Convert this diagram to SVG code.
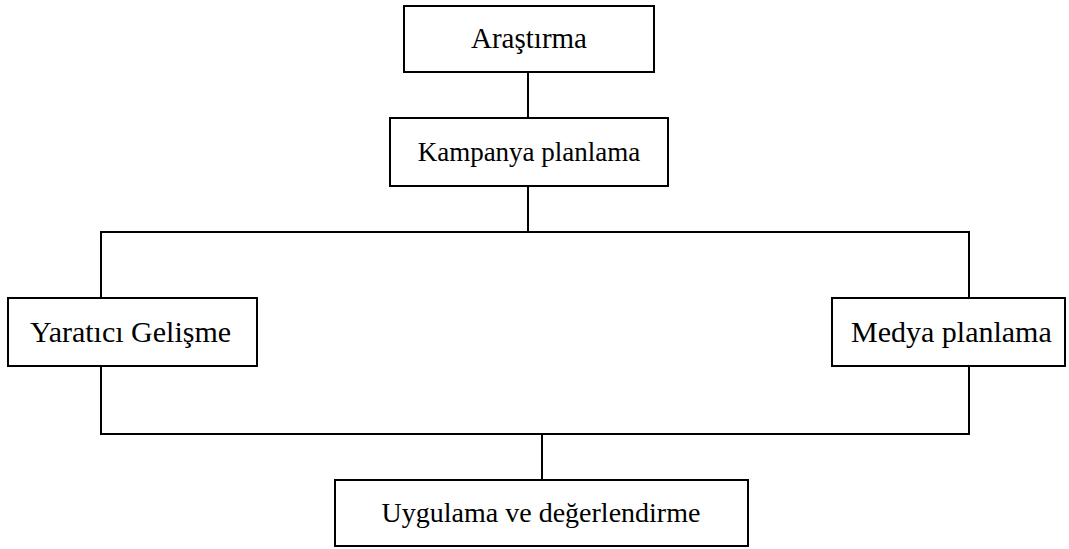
<svg xmlns="http://www.w3.org/2000/svg" width="1069" height="549" viewBox="0 0 1069 549">
<style>
.box{fill:#fff;stroke:#000;stroke-width:2}
.c{fill:none;stroke:#000;stroke-width:2}
</style>
<rect width="1069" height="549" fill="#fff"/>
<g id="connectors">
<path class="c" d="M528 72V118"/>
<path class="c" d="M528 186V232"/>
<path class="c" d="M101 298V232H969V298"/>
<path class="c" d="M101 366V434H969V366"/>
<path class="c" d="M542 434V480"/>
</g>
<g id="n1"><rect class="box" x="404" y="6" width="250" height="66"/><text style="font-family:'Liberation Serif',serif" font-size="29" x="529" y="48" text-anchor="middle">Araştırma</text></g>
<g id="n2"><rect class="box" x="390" y="118" width="278" height="68"/><text style="font-family:'Liberation Serif',serif" font-size="27" x="529" y="161" text-anchor="middle">Kampanya planlama</text></g>
<g id="n3"><rect class="box" x="8" y="298" width="249" height="68"/><text style="font-family:'Liberation Serif',serif" font-size="30" x="30" y="342">Yaratıcı Gelişme</text></g>
<g id="n4"><rect class="box" x="832" y="298" width="233" height="68"/><text style="font-family:'Liberation Serif',serif" font-size="30" x="851" y="342">Medya planlama</text></g>
<g id="n5"><rect class="box" x="335" y="480" width="413" height="66"/><text style="font-family:'Liberation Serif',serif" font-size="28" x="541" y="522" text-anchor="middle">Uygulama ve değerlendirme</text></g>
</svg>
